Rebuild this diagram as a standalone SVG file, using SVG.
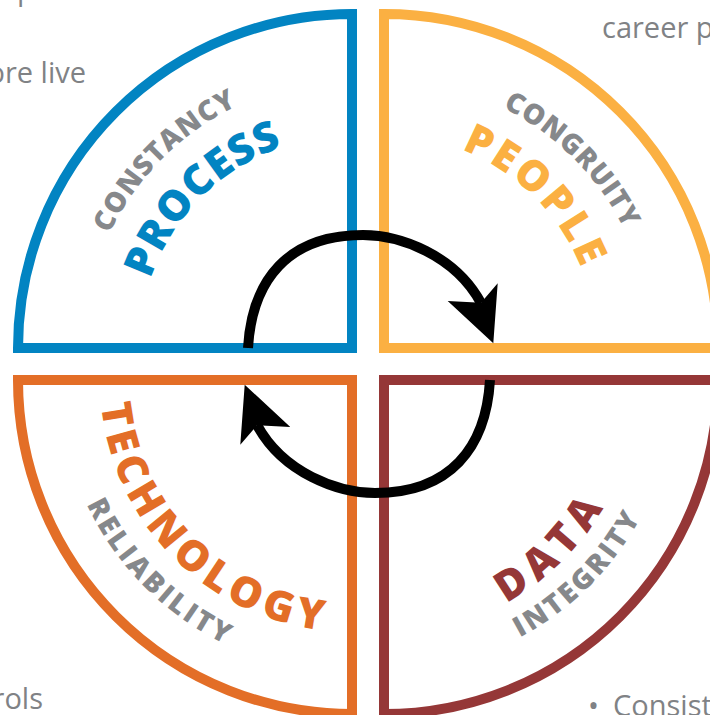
<svg xmlns="http://www.w3.org/2000/svg" width="710" height="715" viewBox="0 0 710 715">
  <style>
    .quad { fill: #ffffff; stroke-width: 10; stroke-linejoin: miter; }
    .big { font-family: "Open Sans", "Liberation Sans", sans-serif; font-weight: 800; font-size: 42px; }
    .sub { font-family: "Open Sans", "Liberation Sans", sans-serif; font-weight: 800; font-size: 28px; fill: #86888b; }
    .bg { font-family: "Open Sans", "Liberation Sans", sans-serif; font-size: 29px; fill: #808285; }
    .loop { fill: none; stroke: #000000; stroke-width: 10; stroke-linecap: butt; }
  </style>
  <defs>
    <!-- baseline arcs for the curved labels, each centred on its quadrant corner -->
    <path id="arc-process" d="M139,348 A213,213 0 0 1 352,135"/>
    <path id="arc-constancy" d="M84,348 A268,268 0 0 1 352,80"/>
    <path id="arc-people" d="M384,135 A213,213 0 0 1 597,348"/>
    <path id="arc-congruity" d="M384,80 A268,268 0 0 1 652,348"/>
    <path id="arc-technology" d="M100,380 A252,252 0 0 0 352,632"/>
    <path id="arc-reliability" d="M59,380 A293,293 0 0 0 352,673"/>
    <path id="arc-data" d="M384,634 A254,254 0 0 0 638,380"/>
    <path id="arc-integrity" d="M384,671 A291,291 0 0 0 675,380"/>
    <!-- one half of the cycle: curved shaft plus arrowhead -->
    <g id="half-loop">
      <path class="loop" d="M248,348 C252,280 288,235 363,235 C400,235 455,255 481,303"/>
      <polygon points="493.3,343.3 447.7,301 481,302.7 497.7,283.3" fill="#000000"/>
    </g>
  </defs>

  <rect x="0" y="0" width="710" height="715" fill="#ffffff"/>

  <!-- surrounding body text -->
  <g id="surrounding-text">
    <text class="bg" x="17" y="0">p</text>
    <text class="bg" x="86" y="83" text-anchor="end">ore live</text>
    <text class="bg" x="602" y="38">career p</text>
    <text class="bg" x="43" y="709" text-anchor="end">controls</text>
    <text class="bg" x="588" y="716" fill="#953737">•</text>
    <text class="bg" x="613" y="716">Consist</text>
  </g>

  <g id="process">
    <path class="quad" stroke="#0284c2" d="M352,348 L18,348 A334,334 0 0 1 352,14 Z"/>
    <text class="sub" letter-spacing="0.9"><textPath href="#arc-constancy" startOffset="50%" text-anchor="middle">CONSTANCY</textPath></text>
    <text class="big" fill="#0284c2" letter-spacing="1"><textPath href="#arc-process" startOffset="50%" text-anchor="middle">PROCESS</textPath></text>
  </g>

  <g id="people">
    <path class="quad" stroke="#fbb042" d="M384,348 L384,14 A334,334 0 0 1 718,348 Z"/>
    <text class="sub" letter-spacing="0.6"><textPath href="#arc-congruity" startOffset="50%" text-anchor="middle">CONGRUITY</textPath></text>
    <text class="big" fill="#fbb042" letter-spacing="3.2"><textPath href="#arc-people" startOffset="50%" text-anchor="middle">PEOPLE</textPath></text>
  </g>

  <g id="technology">
    <path class="quad" stroke="#e36e27" d="M352,380 L352,714 A334,334 0 0 1 18,380 Z"/>
    <text class="big" fill="#e36e27" letter-spacing="5.4"><textPath href="#arc-technology" startOffset="50%" text-anchor="middle">TECHNOLOGY</textPath></text>
    <text class="sub" letter-spacing="3"><textPath href="#arc-reliability" startOffset="50%" text-anchor="middle">RELIABILITY</textPath></text>
  </g>

  <g id="data">
    <path class="quad" stroke="#953737" d="M384,380 L718,380 A334,334 0 0 1 384,714 Z"/>
    <text class="big" fill="#953737" letter-spacing="7"><textPath href="#arc-data" startOffset="50%" text-anchor="middle">DATA</textPath></text>
    <text class="sub" letter-spacing="2.75"><textPath href="#arc-integrity" startOffset="50%" text-anchor="middle">INTEGRITY</textPath></text>
  </g>

  <!-- clockwise cycle arrows through the centre -->
  <g id="connectors">
    <use href="#half-loop"/>
    <use href="#half-loop" transform="rotate(180 369 364)"/>
  </g>
</svg>
